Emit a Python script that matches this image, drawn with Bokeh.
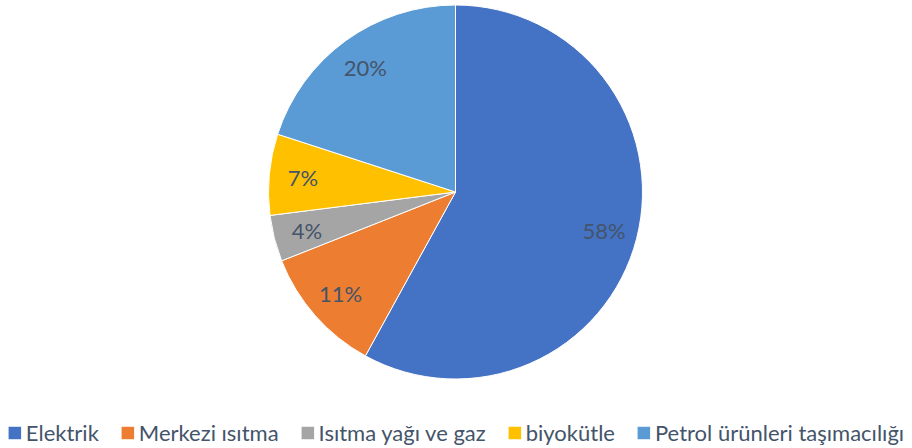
import numpy as np
from bokeh.plotting import figure
from bokeh.models import ColumnDataSource, Legend, LegendItem, Range1d
from bokeh.embed import file_html
from bokeh.resources import INLINE
from bokeh.core.properties import value

categories = ["Elektrik", "Merkezi ısıtma", "Isıtma yağı ve gaz", "biyokütle",
              "Petrol ürünleri taşımacılığı"]
shares = [58, 11, 4, 7, 20]
labels = ["58%", "11%", "4%", "7%", "20%"]
colors = ["#4472C4", "#ED7D31", "#A5A5A5", "#FFC000", "#5B9BD5"]

W, H = 910, 446
R_PX = 187.0
CX, CY = 455.0, 191.5
TEXT_COLOR = "#44546A"
FONT = "Lato"

total = float(sum(shares))
frac = np.array(shares) / total
cum_end = np.cumsum(frac)
cum_start = cum_end - frac
start_angle = np.pi / 2 - 2 * np.pi * cum_end
end_angle = np.pi / 2 - 2 * np.pi * cum_start
mid = (start_angle + end_angle) / 2
lr = 0.82

src = ColumnDataSource(dict(
    cat=categories, start=start_angle, end=end_angle, color=colors,
    lx=lr * np.cos(mid), ly=lr * np.sin(mid), label=labels,
))

p = figure(width=W, height=H, output_backend="svg", toolbar_location=None,
           x_range=Range1d(-CX / R_PX, (W - CX) / R_PX),
           y_range=Range1d(-(H - CY) / R_PX, CY / R_PX),
           min_border=0)
p.axis.visible = False
p.grid.visible = False
p.outline_line_color = None
p.background_fill_color = "white"
p.border_fill_color = "white"

w = p.wedge(x=0, y=0, radius=1.0, start_angle="start", end_angle="end",
            fill_color="color", line_color="white", line_width=1, source=src)

p.text(x="lx", y="ly", text="label", source=src, text_align="center",
       text_baseline="middle", text_font=value(FONT), text_font_size="22px",
       text_color=TEXT_COLOR)

items = [LegendItem(label=c, renderers=[w], index=i) for i, c in enumerate(categories)]
legend = Legend(items=items, orientation="horizontal", location="bottom_center",
                label_text_font=FONT, label_text_font_size="22px",
                label_text_color=TEXT_COLOR, glyph_width=17, glyph_height=17,
                label_standoff=3, spacing=20, padding=0, margin=0,
                border_line_color=None, background_fill_alpha=0)
p.add_layout(legend, "center")

open("out.html", "w").write(file_html(p, INLINE))
